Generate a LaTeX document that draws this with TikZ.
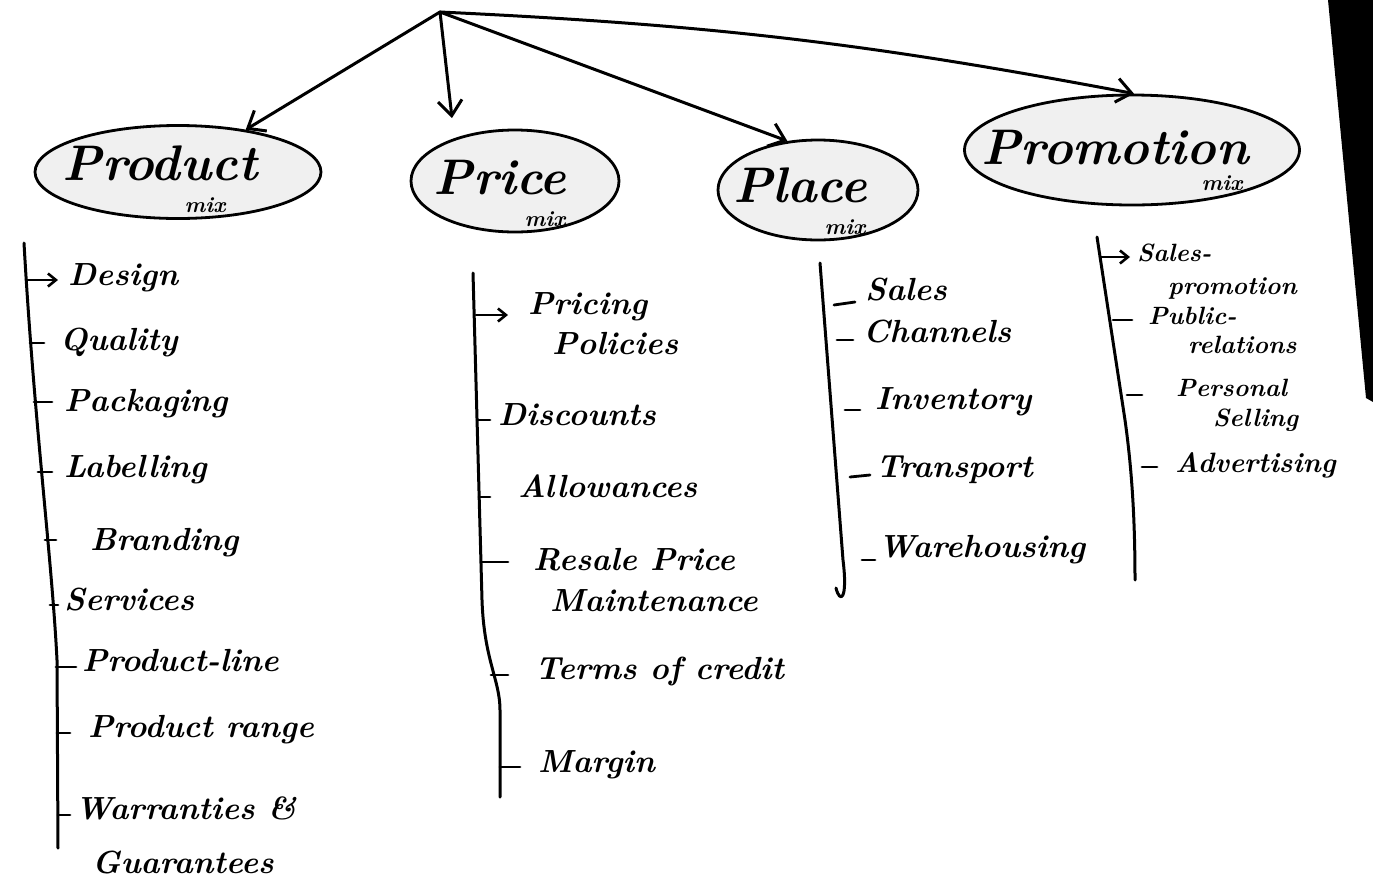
\documentclass[tikz,border=0pt]{standalone}
\usetikzlibrary{arrows.meta,shapes.geometric}
\begin{document}
\begin{tikzpicture}[x=1pt,y=-1pt,
  ink/.style={line width=3pt,line cap=round,line join=round},
  bigarrow/.style={ink,-{Straight Barb[length=15pt,width=24pt]}},
  smallarrow/.style={line width=2.6pt,line cap=round,-{Straight Barb[length=8pt,width=13pt]}},
  tick/.style={line width=2.8pt,line cap=round},
  mixbox/.style={ellipse,draw,line width=2.8pt,fill=black!6,inner sep=0pt},
  head/.style={font=\fontsize{50}{50}\selectfont\bfseries\itshape,inner sep=0pt},
  sub/.style={font=\fontsize{22}{22}\selectfont\bfseries\itshape,inner sep=0pt},
  entry/.style={font=\fontsize{32}{32}\selectfont\bfseries\itshape,anchor=west,inner sep=0pt,text height=22pt,text depth=7pt},
  smallentry/.style={entry,font=\fontsize{25}{25}\selectfont\bfseries\itshape,text height=17pt,text depth=5pt},
]
\useasboundingbox (0,0) rectangle (1373,895);
\fill[white] (0,0) rectangle (1373,895);
% dark edge of the sheet
\fill[black] (1328,0) -- (1373,0) -- (1373,402) -- (1366,398) -- cycle;

% the four mixes
\node[mixbox,minimum width=286pt,minimum height=93pt] (product) at (178,172) {};
\node[mixbox,minimum width=208pt,minimum height=102pt] (price) at (515,181) {};
\node[mixbox,minimum width=200pt,minimum height=100pt] (place) at (818,190) {};
\node[mixbox,minimum width=335pt,minimum height=110pt] (promotion) at (1132,150) {};

\node[head] (productlbl) at (160,163) {Product};
\node[sub] (productsub) at (205,205) {mix};
\node[head] (pricelbl) at (500,178) {Price};
\node[sub] (pricesub) at (545,219) {mix};
\node[head] (placelbl) at (800,185) {Place};
\node[sub] (placesub) at (845,227) {mix};
\node[head] (promotionlbl) at (1115,148) {Promotion};
\node[sub] (promotionsub) at (1222,183) {mix};

% branches from the top
\coordinate (root) at (440,12);
\coordinate (pricetip) at (452,118);
\draw[bigarrow] (root) -- (product.32);
\draw[bigarrow] (root) -- (pricetip);
\draw[bigarrow] (root) -- (place.122);
\draw[bigarrow] (root) to[bend left=4] (promotion.88);

% product mix list
\draw[ink] (24,243) .. controls (34,420) and (52,560) .. (57,660) -- (58,848);
\draw[smallarrow] (26,280) -- (58,280);
\node[entry] (design) at (68,278) {Design};
\draw[tick] (30,343) -- (44,343);
\node[entry] (quality) at (60,343) {Quality};
\draw[tick] (34,402) -- (52,402);
\node[entry] (packaging) at (64,404) {Packaging};
\draw[tick] (38,472) -- (52,472);
\node[entry] (labelling) at (64,470) {Labelling};
\draw[tick] (45,540) -- (56,540);
\node[entry] (branding) at (90,543) {Branding};
\draw[tick] (50,605) -- (58,605);
\node[entry] (services) at (64,603) {Services};
\draw[tick] (56,667) -- (76,667);
\node[entry] (productline) at (82,664) {Product-line};
\draw[tick] (57,733) -- (70,733);
\node[entry] (productrange) at (88,730) {Product range};
\draw[tick] (58,815) -- (70,815);
\node[entry] (warranties) at (75,812) {Warranties \&};
\node[entry] (guarantees) at (92,866) {Guarantees};

% price mix list
\draw[ink] (473,273) -- (482,600) .. controls (484,660) and (500,680) .. (500,710) -- (500,797);
\draw[smallarrow] (476,315) -- (508,315);
\node[entry] (pricing) at (528,307) {Pricing};
\node[entry] (policies) at (552,347) {Policies};
\draw[tick] (477,420) -- (490,420);
\node[entry] (discounts) at (498,418) {Discounts};
\draw[tick] (479,497) -- (490,497);
\node[entry] (allowances) at (518,490) {Allowances};
\draw[tick] (482,562) -- (508,562);
\node[entry] (resale) at (533,563) {Resale Price};
\node[entry] (maintenance) at (550,604) {Maintenance};
\draw[tick] (491,675) -- (508,675);
\node[entry] (terms) at (535,672) {Terms of credit};
\draw[tick] (500,767) -- (520,767);
\node[entry] (margin) at (538,765) {Margin};

% place mix list
\draw[ink] (820,263) -- (843,560) .. controls (848,600) and (840,604) .. (836,588);
\draw[tick] (834,305) -- (855,302);
\node[entry] (sales) at (865,293) {Sales};
\draw[tick] (837,340) -- (853,340);
\node[entry] (channels) at (863,335) {Channels};
\draw[tick] (845,410) -- (860,410);
\node[entry] (inventory) at (875,402) {Inventory};
\draw[tick] (850,477) -- (870,475);
\node[entry] (transport) at (876,470) {Transport};
\draw[tick] (862,560) -- (875,560);
\node[entry] (warehousing) at (878,550) {Warehousing};

% promotion mix list
\draw[ink] (1097,237) -- (1125,420) .. controls (1132,470) and (1135,520) .. (1135,580);
\draw[smallarrow] (1100,257) -- (1130,257);
\node[smallentry] (salespromo) at (1137,255) {Sales-};
\node[smallentry] (promotionitem) at (1168,288) {promotion};
\draw[tick] (1113,320) -- (1132,320);
\node[smallentry] (public) at (1148,318) {Public-};
\node[smallentry] (relations) at (1188,347) {relations};
\draw[tick] (1127,395) -- (1142,395);
\node[smallentry] (personal) at (1176,390) {Personal};
\node[smallentry] (selling) at (1213,420) {Selling};
\draw[tick] (1142,467) -- (1157,467);
\node[entry,font=\fontsize{28}{28}\selectfont\bfseries\itshape] (advertising) at (1175,465) {Advertising};
\end{tikzpicture}
\end{document}
